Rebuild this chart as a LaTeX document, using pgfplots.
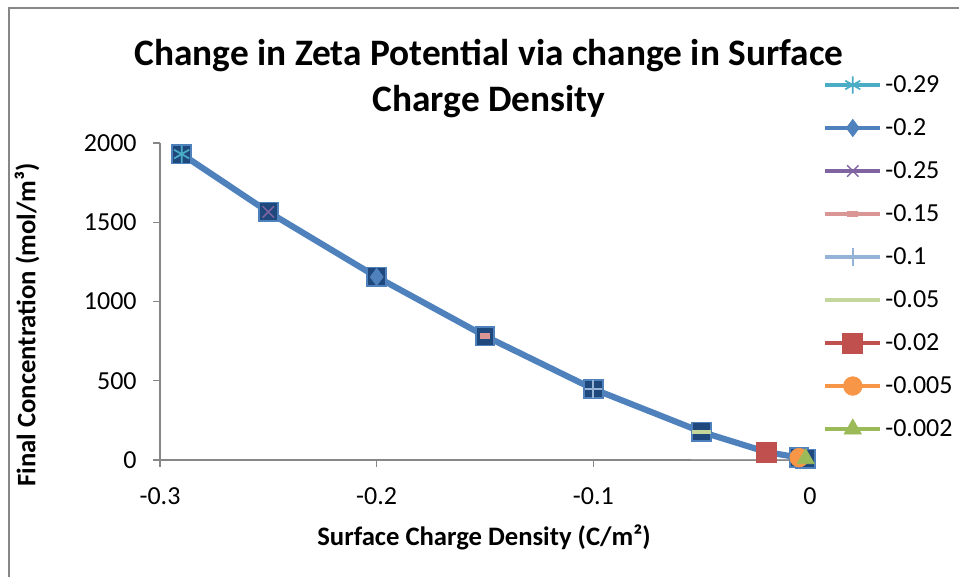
\documentclass[border=0pt]{standalone}
\usepackage{pgfplots}
\pgfplotsset{compat=1.18}
\usepackage{fontspec}
\setmainfont{Carlito}
\definecolor{cteal}{HTML}{4BACC6}
\definecolor{cblue}{HTML}{4F81BD}
\definecolor{cpurple}{HTML}{8064A2}
\definecolor{cpink}{HTML}{D99694}
\definecolor{clblue}{HTML}{95B3D7}
\definecolor{clgreen}{HTML}{C3D69B}
\definecolor{cred}{HTML}{C0504D}
\definecolor{corange}{HTML}{F79646}
\definecolor{cgreen}{HTML}{9BBB59}
\definecolor{cnavy}{HTML}{1F497D}
\definecolor{caxis}{HTML}{878787}
\begin{document}
\begin{tikzpicture}[x=0.75pt,y=0.75pt]
\useasboundingbox (0,0) rectangle (959,577);
\draw[caxis,line width=1.2pt] (9,-300) -- (9,569) -- (1200,569);
\node[font=\fontsize{28}{34.5}\selectfont\bfseries,align=center] at (489,498) {Change in Zeta Potential via change in Surface\\Charge Density};
\node[font=\fontsize{20}{24}\selectfont\bfseries] at (484,40) {Surface Charge Density (C/m²)};
\node[font=\fontsize{20}{24}\selectfont\bfseries,rotate=90] at (27,252) {Final Concentration (mol/m³)};
\begin{axis}[
  at={(120pt,87.75pt)}, anchor=south west,
  scale only axis, width=487.5pt, height=237.75pt,
  xmin=-0.3, xmax=0, ymin=0, ymax=2000,
  axis lines=left, axis line style={-, caxis, line width=1.1pt},
  clip=false,
  xtick={-0.3,-0.2,-0.1,0}, xticklabels={-0.3,-0.2,-0.1,0},
  ytick={0,500,1000,1500,2000}, yticklabels={0,500,1000,1500,2000},
  tick align=outside, major tick length=5pt,
  tick style={caxis, line width=1.1pt},
  ticklabel style={font=\fontsize{19.5}{22}\selectfont},
  xticklabel style={yshift=-12pt},
  yticklabel style={xshift=-9pt},
  legend style={at={(1.02,1.222)}, anchor=north west, draw=none, fill=none,
    font=\fontsize{19.5}{22}\selectfont, row sep=14.1pt, inner sep=0pt,
    /tikz/every even column/.append style={column sep=2pt}},
  legend cell align=left,
  legend image code/.code={
    \draw[mark repeat=2,mark phase=2] plot coordinates {(0cm,0cm)(0.72cm,0cm)(1.45cm,0cm)};
  },
]
% main connecting series
\addplot[forget plot, cblue, line width=4.6pt, mark=square*,
  mark options={fill=cnavy, draw=cblue, line width=1.3pt}, mark size=7pt]
  coordinates {(-0.29,1930)(-0.25,1565)(-0.2,1155)(-0.15,782)(-0.1,448)(-0.05,177)(-0.02,50)(-0.005,15)(-0.002,8)};
\addplot[forget plot, caxis!80, line width=1pt] coordinates {(-0.055,2)(0,2)};
% individual series
\addplot[cteal, line width=3.3pt, mark=asterisk, mark size=6.5pt, mark options={line width=1.3pt}] coordinates {(-0.29,1930)};
\addlegendentry{-0.29}
\addplot[cblue, line width=3.3pt, mark=diamond*, mark size=6.5pt, mark options={fill=cblue, line width=0.5pt}] coordinates {(-0.2,1155)};
\addlegendentry{-0.2}
\addplot[cpurple, line width=3.3pt, mark=x, mark size=6pt, mark options={line width=1.1pt}] coordinates {(-0.25,1565)};
\addlegendentry{-0.25}
\addplot[cpink, line width=3.3pt, mark=-, mark size=4pt, mark options={line width=4pt}] coordinates {(-0.15,782)};
\addlegendentry{-0.15}
\addplot[clblue, line width=3.3pt, mark=+, mark size=6.5pt, mark options={line width=1.5pt}] coordinates {(-0.1,448)};
\addlegendentry{-0.1}
\addplot[clgreen, line width=3.3pt, mark=-, mark size=7pt, mark options={line width=3.5pt}] coordinates {(-0.05,177)};
\addlegendentry{-0.05}
\addplot[cred, line width=3.3pt, mark=square*, mark size=7.5pt, mark options={fill=cred, line width=0.5pt}] coordinates {(-0.02,50)};
\addlegendentry{-0.02}
\addplot[corange, line width=3.3pt, mark=*, mark size=7pt, mark options={fill=corange, line width=0.5pt}] coordinates {(-0.005,15)};
\addlegendentry{-0.005}
\addplot[cgreen, line width=3.3pt, mark=triangle*, mark size=7.5pt, mark options={fill=cgreen, line width=0.5pt}] coordinates {(-0.002,8)};
\addlegendentry{-0.002}
\end{axis}
\end{tikzpicture}
\end{document}
